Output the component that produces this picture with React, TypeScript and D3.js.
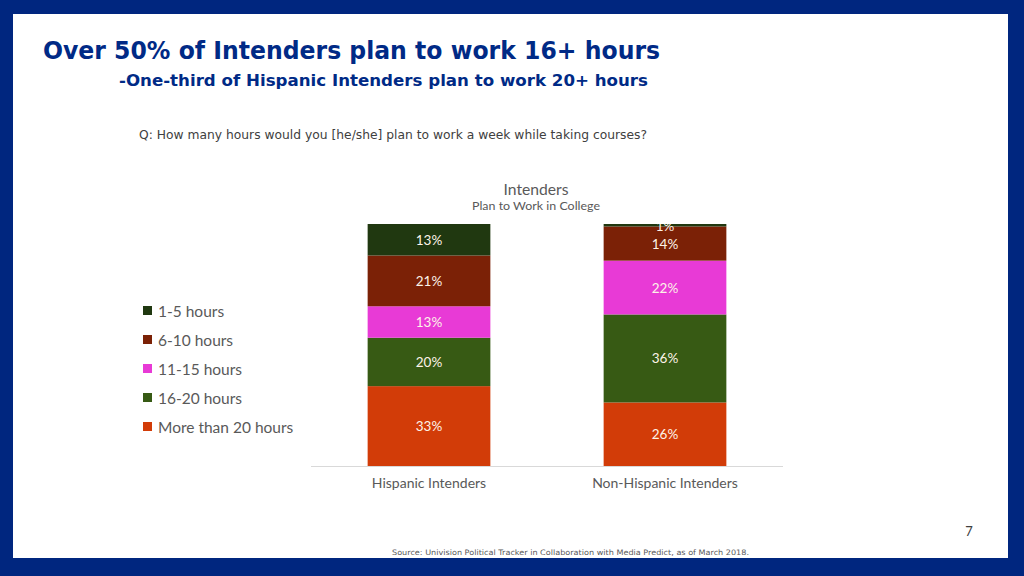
import React from "react";
import * as d3 from "d3";

const categories = ["Hispanic Intenders", "Non-Hispanic Intenders"];
const seriesNames = ["More than 20 hours", "16-20 hours", "11-15 hours", "6-10 hours", "1-5 hours"];
const moreThan20 = [33, 26];
const h16to20 = [20, 36];
const h11to15 = [13, 22];
const h6to10 = [21, 14];
const h1to5 = [13, 1];
const seriesColors = ["#d23c08", "#375a14", "#e83ad6", "#7b2106", "#203810"];
const legendOrder = ["1-5 hours", "6-10 hours", "11-15 hours", "16-20 hours", "More than 20 hours"];

export default function App() {
  const W = 1024, H = 576;
  const seriesValues = [moreThan20, h16to20, h11to15, h6to10, h1to5];
  const rows = categories.map((c, i) => {
    const r: any = { cat: c };
    seriesNames.forEach((s, k) => (r[s] = seriesValues[k][i]));
    return r;
  });
  const stacked = d3.stack<any>().keys(seriesNames).offset(d3.stackOffsetExpand)(rows);
  const x = d3.scaleBand().domain(categories).range([311, 783]).paddingInner(0.48).paddingOuter(0.24);
  const y = d3.scaleLinear().domain([0, 1]).range([466, 224]);
  const color = d3.scaleOrdinal<string, string>().domain(seriesNames).range(seriesColors);
  const font = "Lato, 'Open Sans', sans-serif";

  return (
    <svg width={W} height={H} style={{ position: "absolute", left: 0, top: 0 }}>
      <defs>
        <clipPath id="plotClip">
          <rect x={300} y={224} width={500} height={260} />
        </clipPath>
      </defs>
      <rect x={0} y={0} width={W} height={H} fill="#00267f" />
      <rect x={13} y={14} width={995} height={544} fill="#ffffff" />
      <text x={43} y={59} fontFamily="'DejaVu Sans', sans-serif" fontWeight="bold" fontSize={24} fill="#002a86" textLength={617} lengthAdjust="spacingAndGlyphs">
        Over 50% of Intenders plan to work 16+ hours
      </text>
      <text x={119} y={86} fontFamily="'DejaVu Sans', sans-serif" fontWeight="bold" fontSize={16.5} fill="#002a86" textLength={529} lengthAdjust="spacingAndGlyphs">
        -One-third of Hispanic Intenders plan to work 20+ hours
      </text>
      <text x={139} y={139} fontFamily="'DejaVu Sans', sans-serif" fontSize={11.5} fill="#404040" textLength={508} lengthAdjust="spacingAndGlyphs">
        Q: How many hours would you [he/she] plan to work a week while taking courses?
      </text>
      <text x={536} y={195} textAnchor="middle" fontFamily={font} fontSize={14.5} fill="#595959" textLength={65} lengthAdjust="spacingAndGlyphs">Intenders</text>
      <text x={536} y={210} textAnchor="middle" fontFamily={font} fontSize={12} fill="#595959" textLength={128} lengthAdjust="spacingAndGlyphs">Plan to Work in College</text>

      {stacked.map((layer) => (
        <g key={layer.key} fill={color(layer.key)}>
          {layer.map((d, i) => (
            <rect key={i} x={x(d.data.cat)} y={y(d[1])} width={x.bandwidth()} height={y(d[0]) - y(d[1])} />
          ))}
        </g>
      ))}
      <g clipPath="url(#plotClip)">
        {stacked.map((layer, k) => (
          <g key={"l" + layer.key}>
            {layer.map((d, i) => {
              const v = seriesValues[k][i];
              const h = y(d[0]) - y(d[1]);
              const cy = h < 8 ? y(d[1]) + 6.5 : (y(d[0]) + y(d[1])) / 2 + 5;
              return (
                <text key={i} x={(x(d.data.cat) as number) + x.bandwidth() / 2} y={cy} textAnchor="middle" fontFamily={font} fontSize={13.5} fill="#fdf3e8">
                  {v}%
                </text>
              );
            })}
          </g>
        ))}
      </g>
      <line x1={311} x2={783} y1={466.5} y2={466.5} stroke="#d9d9d9" strokeWidth={1} />
      {categories.map((c) => (
        <text key={c} x={(x(c) as number) + x.bandwidth() / 2} y={488} textAnchor="middle" fontFamily={font} fontSize={14} fill="#595959">
          {c}
        </text>
      ))}
      {legendOrder.map((s, i) => (
        <g key={s} transform={`translate(143, ${311 + i * 29})`}>
          <rect x={0} y={-5} width={9} height={9} fill={color(s)} />
          <text x={15} y={5.5} fontFamily={font} fontSize={15.5} fill="#595959">{s}</text>
        </g>
      ))}
      <text x={969} y={536} textAnchor="middle" fontFamily={font} fontSize={13} fill="#404040">7</text>
      <text x={392} y={555} fontFamily="'DejaVu Sans', sans-serif" fontSize={7.5} fill="#595959" textLength={357} lengthAdjust="spacingAndGlyphs">
        Source: Univision Political Tracker in Collaboration with Media Predict, as of March 2018.
      </text>
    </svg>
  );
}
